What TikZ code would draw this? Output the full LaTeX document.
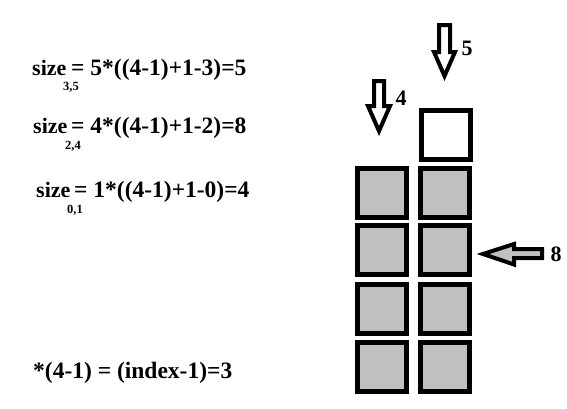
\documentclass[tikz,border=0pt]{standalone}
\usepackage{fontspec}
\setmainfont{Liberation Serif}
\definecolor{silver}{RGB}{192,192,192}
\begin{document}
\begin{tikzpicture}[x=1pt,y=-1pt,
  cell/.style={draw=black,line width=5pt,fill=silver},
  emptycell/.style={draw=black,line width=5pt,fill=white},
  arr/.style={draw=black,line width=4pt,line join=miter},
  big/.style={inner sep=0pt,font=\fontsize{23.5}{28}\selectfont\bfseries},
  word/.style={inner sep=0pt,font=\fontsize{22}{26}\selectfont\bfseries},
  sub/.style={inner sep=0pt,font=\fontsize{12.5}{15}\selectfont\bfseries}]
\useasboundingbox (0,0) rectangle (567,408);
% equations
\node[word,anchor=base west] (s1) at (32,75) {size};
\node[big,anchor=base west] (e1) at (71,75) {= 5*((4-1)+1-3)=5};
\node[sub,anchor=base west] (b1) at (63,90) {3,5};
\node[word,anchor=base west] (s2) at (33,133) {size};
\node[big,anchor=base west] (e2) at (71,133) {= 4*((4-1)+1-2)=8};
\node[sub,anchor=base west] (b2) at (65,149.5) {2,4};
\node[word,anchor=base west] (s3) at (36,197) {size};
\node[big,anchor=base west] (e3) at (74,197) {= 1*((4-1)+1-0)=4};
\node[sub,anchor=base west] (b3) at (67,213.5) {0,1};
\node[big,anchor=base west] (bt) at (33,378) {*(4-1) = (index-1)=3};
% cells
\draw[emptycell] (421.5,110.5) rectangle (470.5,159.5);
\foreach \y/\n in {168.5/1,225.5/2,284.5/3,342.5/4}{
  \draw[cell] (357.5,\y) rectangle (406.5,\y+49);
  \draw[cell] (420.5,\y) rectangle (469.5,\y+49);
}
% arrows
\draw[arr,fill=white] (439,25) -- (450,25) -- (450,52) -- (455,52) -- (444.5,76) -- (434,52) -- (439,52) -- cycle;
\draw[arr,fill=white] (374,81) -- (384,81) -- (384,106) -- (390,106) -- (379,131) -- (368,106) -- (374,106) -- cycle;
\draw[arr,fill=silver] (542,249) -- (514,249) -- (514,244) -- (483,254) -- (514,264.5) -- (514,258) -- (542,258) -- cycle;
\node[word] (l5) at (467,48) {5};
\node[word] (l4) at (401,98) {4};
\node[word] (l8) at (556,254) {8};
\end{tikzpicture}
\end{document}
